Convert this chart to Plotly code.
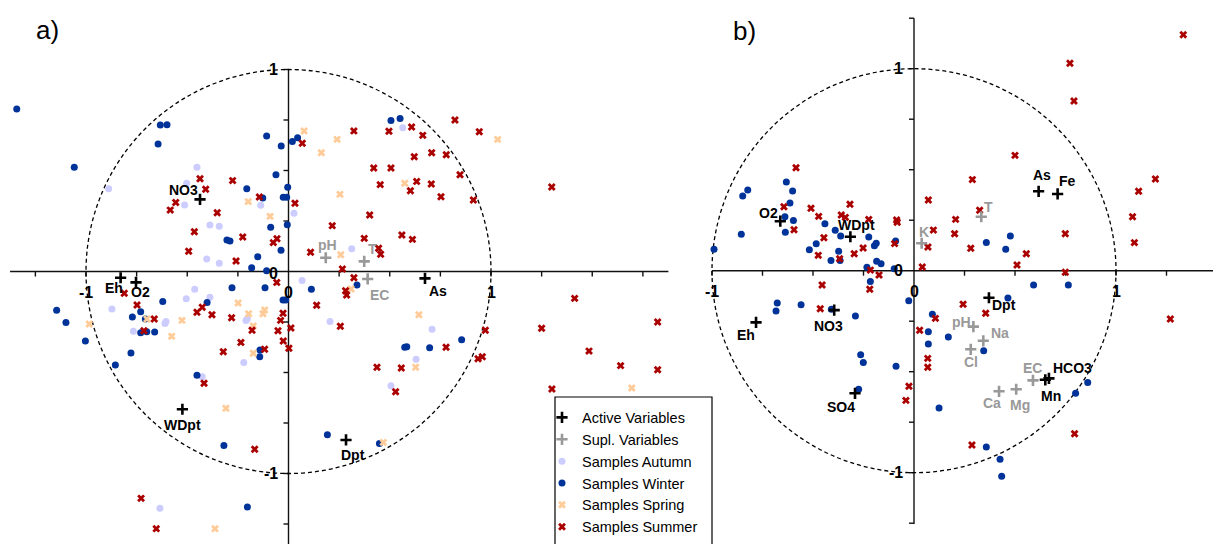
import plotly.graph_objects as go

# ---------------- DATA ----------------
# Panel a) samples
a_autumn_x = [-0.452, -0.888, -0.503, -0.513, -0.388, -0.342, -0.404, -0.342, -0.137, 0.027, 0.564, 0.312, 0.067,
              -0.463, -0.505, -0.388, -0.872, -0.766, -0.610, -0.605, -0.210, -0.203, -0.221, -0.426, -0.635,
              0.205, 0.709, 0.630, 0.506]
a_autumn_y = [0.516, 0.410, 0.437, 0.329, 0.230, 0.224, 0.062, 0.041, 0.328, 0.288, 0.712, 0.113, -0.045,
              -0.088, -0.135, -0.128, -0.186, -0.296, -0.258, -0.248, -0.242, -0.234, -0.450, -0.521, -1.172,
              -0.247, -0.286, -0.435, -0.565]

a_winter_x = [-1.342, -1.058, -0.633, -0.600, -0.644, -0.206, -0.127, -0.108, -0.036, -0.062, -0.004, -0.026, -0.009,
              -0.006, -0.088, -0.037, -0.152, -0.304, -0.289, -0.182, -0.108, 0.019, 0.045, -0.279, -0.116,
              0.506, 0.551, 0.113, 0.338,
              -0.621, -0.730, -0.771, -0.707, -1.145, -1.099, -1.003, -0.730, -0.700, -0.661, -0.778, -0.855,
              -0.402, -0.027, -0.014, -0.141, -0.142, -0.452, -0.319, -0.203,
              0.574, 0.584, 0.697, 0.855, 0.192, 0.449]
a_winter_y = [0.804, 0.516, 0.725, 0.727, 0.631, 0.410, 0.364, 0.671, 0.621, 0.479, 0.417, 0.367, 0.367,
              0.232, 0.219, 0.105, 0.073, 0.156, 0.151, 0.019, 0.004, 0.643, 0.662, -0.080, -0.080,
              0.748, 0.758, -0.088, -0.067,
              -0.148, -0.199, -0.225, -0.235, -0.192, -0.252, -0.344, -0.303, -0.298, -0.300, -0.403, -0.463,
              -0.153, -0.141, -0.141, -0.389, -0.422, -0.514, -0.862, -1.166,
              -0.375, -0.372, -0.377, -0.338, -0.808, -0.852]

a_spring_x = [-0.199, -0.091, 0.077, 0.240, 0.162, 0.574, 0.254, 1.033, 0.258, 0.309,
              -0.984, -0.699, -0.526, -0.577, -0.249, -0.197, -0.126, -0.118, -0.174, -0.174, -0.309, -0.363,
              0.644, 0.628, 0.468, 1.695]
a_spring_y = [0.346, 0.273, 0.696, 0.654, 0.588, 0.437, 0.382, 0.654, 0.083, -0.087,
              -0.260, -0.235, -0.242, -0.321, -0.156, -0.209, -0.209, -0.191, -0.270, -0.405, -0.677, -1.273,
              -0.214, -0.474, -0.846, -0.577]

a_summer_x = [-0.437, -0.409, -0.276, -0.557, -0.584, -0.352, -0.465, -0.493, -0.226, -0.259, -0.144, 0.032,
              -0.057, -0.075, -0.058, -0.811,
              0.068, 0.323, 0.496, 0.608, 0.663, 0.822, 0.942, 0.421, 0.506, 0.621, 0.707, 0.779, 0.847,
              0.453, 0.633, 0.705, 0.602, 0.753, 0.913, 1.300, 0.401, 0.216, 0.560, 0.612, 0.374, 0.445,
              0.455, 0.109, 0.266, 0.323, 0.282, 0.287, 1.413,
              -0.748, -0.663, -0.714, -0.452, -0.426, -0.378, -0.281, -0.180, -0.235, -0.322, -0.118,
              -0.027, -0.039, -0.052, -0.026, 0.002, 0.012, -0.417, -0.167, -0.728, -0.653,
              0.139, 0.256, 0.778, 0.437, 0.557, 0.529, 0.972, 0.936, 0.957, 1.250, 1.301,
              1.823, 1.484, 1.640, 1.823]
a_summer_y = [0.459, 0.407, 0.450, 0.342, 0.304, 0.291, 0.197, 0.100, 0.171, 0.052, 0.369, 0.338,
              0.162, 0.143, -0.054, -0.108,
              0.635, 0.696, 0.694, 0.715, 0.674, 0.750, 0.692, 0.512, 0.512, 0.568, 0.588, 0.578, 0.479,
              0.430, 0.446, 0.433, 0.400, 0.370, 0.354, 0.418, 0.280, 0.227, 0.181, 0.159, 0.164, 0.115,
              0.085, 0.095, 0.012, -0.031, -0.095, -0.116, -0.133,
              -0.166, -0.235, -0.293, -0.202, -0.177, -0.214, -0.229, -0.291, -0.351, -0.397, -0.385,
              -0.207, -0.242, -0.293, -0.344, -0.380, -0.280, -0.553, -0.880, -1.123, -1.273,
              -0.167, -0.271, -0.375, -0.474, -0.478, -0.595, -0.291, -0.432, -0.422, -0.281, -0.582,
              -0.250, -0.394, -0.466, -0.486]

# Panel a) variables
a_active_names = ["NO3", "Eh", "O2", "WDpt", "Dpt", "As"]
a_active_x = [-0.437, -0.829, -0.753, -0.524, 0.284, 0.674]
a_active_y = [0.357, -0.031, -0.054, -0.682, -0.834, -0.034]
a_supl_names = ["pH", "T", "EC"]
a_supl_x = [0.184, 0.374, 0.391]
a_supl_y = [0.068, 0.050, -0.037]

# Panel b) samples
b_winter_x = [-0.990, -0.855, -0.848, -0.823, -0.632, -0.601, -0.614, -0.639, -0.597, -0.637, -0.441, -0.390,
              -0.363, -0.518, -0.484, -0.411, -0.373, -0.366, -0.224, -0.196, -0.187, -0.091, -0.233, -0.185,
              -0.163, -0.098, 0.358, 0.454, 0.477,
              -0.677, -0.683, -0.559, -0.409, -0.290, -0.216, -0.026, -0.264, -0.251, -0.089, -0.274,
              0.091, 0.071, 0.071, 0.170, 0.124,
              0.592, 0.764, 0.465, 0.345, 0.860, 0.800, 0.358, 0.426, 0.434]
b_winter_y = [0.106, 0.180, 0.370, 0.400, 0.439, 0.395, 0.335, 0.267, 0.249, 0.190, 0.233, 0.200,
              0.172, 0.104, 0.134, 0.051, 0.096, 0.050, 0.167, 0.124, 0.136, 0.147, 0.017, 0.047,
              0.035, 0.010, 0.139, 0.106, 0.172,
              -0.160, -0.200, -0.168, -0.191, -0.224, -0.054, -0.149, -0.416, -0.455, -0.473, -0.587,
              -0.216, -0.302, -0.363, -0.328, -0.680,
              -0.071, -0.071, -0.135, -0.396, -0.554, -0.607, -0.873, -0.934, -1.018]

b_summer_x = [-0.584, -0.644, -0.594, -0.510, -0.472, -0.446, -0.474, -0.360, -0.340, -0.317, -0.368, -0.296,
              -0.252, -0.224, -0.216, -0.173, -0.086, -0.083, -0.096, 0.071, 0.096, 0.069, 0.041, 0.206, 0.201,
              1.333, 0.772, 0.792, 0.500, 0.289, 1.195, 1.112, 1.082, 1.091, 0.325, 0.281, 0.749, 0.556,
              0.510, 0.749,
              -0.455, -0.464, -0.219, 0.106, 0.028, 0.068, 0.068, -0.025, -0.040,
              0.243, 0.355, 1.503, 1.269, 0.795, 0.287]
b_summer_y = [0.510, 0.317, 0.203, 0.309, 0.269, 0.163, 0.076, 0.276, 0.264, 0.329, 0.059, 0.084,
              0.112, 0.254, 0.003, -0.021, 0.251, 0.240, 0.134, 0.350, 0.201, 0.117, 0.018, 0.254, 0.183,
              1.168, 1.027, 0.840, 0.571, 0.451, 0.454, 0.393, 0.267, 0.139, 0.299, 0.111, 0.183, 0.084,
              0.028, -0.008,
              -0.071, -0.188, -0.092, -0.236, -0.295, -0.434, -0.478, -0.572, -0.642,
              -0.166, -0.211, -0.112, -0.239, -0.807, -0.863]

# Panel b) variables
b_active_names = ["O2", "WDpt", "As", "Fe", "Eh", "NO3", "SO4", "Dpt", "HCO3", "Mn"]
b_active_x = [-0.662, -0.315, 0.617, 0.711, -0.782, -0.395, -0.292, 0.371, 0.668, 0.650]
b_active_y = [0.245, 0.168, 0.393, 0.380, -0.256, -0.195, -0.607, -0.134, -0.533, -0.540]
b_supl_names = ["K", "T", "pH", "Na", "Cl", "EC", "Ca", "Mg"]
b_supl_x = [0.038, 0.333, 0.294, 0.343, 0.281, 0.589, 0.421, 0.506]
b_supl_y = [0.136, 0.267, -0.277, -0.347, -0.389, -0.543, -0.597, -0.587]

# Axes ticks
a_xticks = [-1.25, -1.0, -0.75, -0.5, -0.25, 0.25, 0.5, 0.75, 1.0, 1.25, 1.5, 1.75]
a_yticks = [1.0, 0.75, 0.5, 0.25, -0.25, -0.5, -0.75, -1.0, -1.25]
b_xticks = [-1.0, -0.75, -0.5, -0.25, 0.25, 0.5, 0.75, 1.0, 1.25, 1.5]
b_yticks = [1.25, 1.0, 0.75, 0.5, 0.25, -0.25, -0.5, -0.75, -1.0, -1.25]
tick_labels = {-1.0: "-1", 0.0: "0", 1.0: "1"}

# ---------------- STYLE ----------------
C_AUT = "#ccccff"
C_WIN = "#003399"
C_SPR = "#ffcc99"
C_SUM = "#aa0000"
C_SUP = "#999999"
FONT = "Liberation Sans"
OFF = 8  # page body offset in the browser (px)

# label offsets (pixels) for variable labels: (xshift, yshift)
a_active_off = {"NO3": (-17, 9), "Eh": (-7, -10), "O2": (4, -10), "WDpt": (0, -16), "Dpt": (7, -15), "As": (13, -13)}
a_supl_off = {"pH": (2, 13), "T": (8, 12), "EC": (12, -16)}
b_active_off = {"O2": (-12, 8), "WDpt": (6, 12), "As": (3, 16), "Fe": (10, 13), "Eh": (-10, -13),
                "NO3": (-6, -16), "SO4": (-14, -14), "Dpt": (15, -7), "HCO3": (24, 10), "Mn": (6, -16)}
b_supl_off = {"K": (2, 11), "T": (7, 10), "pH": (-12, 5), "Na": (17, 8), "Cl": (0, -13), "EC": (0, 12),
              "Ca": (-7, -12), "Mg": (4, -16)}

fig = go.Figure()

def add_samples(xs, ys, name, color, symbol, size, xa, ya, show, rank):
    fig.add_trace(go.Scatter(x=xs, y=ys, mode="markers", name=name, xaxis=xa, yaxis=ya,
                             marker=dict(color=color, symbol=symbol, size=size, line=dict(width=0)),
                             showlegend=show, legendrank=rank, cliponaxis=False))

def add_vars(xs, ys, name, color, xa, ya, show, rank):
    fig.add_trace(go.Scatter(x=xs, y=ys, mode="markers", name=name, xaxis=xa, yaxis=ya,
                             marker=dict(symbol="cross-thin", size=8, line=dict(color=color, width=2.6)),
                             showlegend=show, legendrank=rank, cliponaxis=False))

# panel a
add_samples(a_autumn_x, a_autumn_y, "Samples Autumn", C_AUT, "circle", 7, "x", "y", True, 3)
add_samples(a_winter_x, a_winter_y, "Samples Winter", C_WIN, "circle", 7, "x", "y", True, 4)
add_samples(a_spring_x, a_spring_y, "Samples Spring", C_SPR, "x", 7, "x", "y", True, 5)
add_samples(a_summer_x, a_summer_y, "Samples Summer", C_SUM, "x", 7, "x", "y", True, 6)
add_vars(a_supl_x, a_supl_y, "Supl. Variables", C_SUP, "x", "y", True, 2)
add_vars(a_active_x, a_active_y, "Active Variables", "black", "x", "y", True, 1)
# panel b
add_samples(b_winter_x, b_winter_y, "Samples Winter", C_WIN, "circle", 7, "x2", "y2", False, 4)
add_samples(b_summer_x, b_summer_y, "Samples Summer", C_SUM, "x", 7, "x2", "y2", False, 6)
add_vars(b_supl_x, b_supl_y, "Supl. Variables", C_SUP, "x2", "y2", False, 2)
add_vars(b_active_x, b_active_y, "Active Variables", "black", "x2", "y2", False, 1)

shapes = []
annotations = []

def axes(xr, yr, hx0, hx1, vy0, vy1, xticks, yticks, y0lab_shift):
    line = dict(color="#111111", width=1.4)
    shapes.append(dict(type="line", xref=xr, yref=yr, x0=hx0, x1=hx1, y0=0, y1=0, line=line, layer="below"))
    shapes.append(dict(type="line", xref=xr, yref=yr, x0=0, x1=0, y0=vy0, y1=vy1, line=line, layer="below"))
    for t in xticks:
        shapes.append(dict(type="line", xref=xr, yref=yr, x0=t, x1=t, ysizemode="pixel", yanchor=0,
                           y0=0, y1=-5, line=line, layer="below"))
    for t in yticks:
        shapes.append(dict(type="line", xref=xr, yref=yr, y0=t, y1=t, xsizemode="pixel", xanchor=0,
                           x0=0, x1=-5, line=line, layer="below"))
    shapes.append(dict(type="circle", xref=xr, yref=yr, x0=-1, x1=1, y0=-1, y1=1,
                       line=dict(color="black", width=1.3, dash="4px,3px"), layer="below"))
    for v, txt in tick_labels.items():
        annotations.append(dict(xref=xr, yref=yr, x=v, y=0, text="<b>%s</b>" % txt,
                                showarrow=False, xanchor="center", yanchor="middle", yshift=-21,
                                font=dict(family=FONT, size=16, color="black")))
        annotations.append(dict(xref=xr, yref=yr, x=0, y=v, text="<b>%s</b>" % txt, showarrow=False,
                                xanchor="right", yanchor="middle", xshift=-9,
                                yshift=y0lab_shift if v == 0 else 0,
                                font=dict(family=FONT, size=16, color="black")))

axes("x", "y", -1.375, 1.876, 1.0, -1.45, a_xticks, a_yticks, -2)
axes("x2", "y2", -1.0, 1.56, -1.254, 1.25, b_xticks, b_yticks, 0)

def labels(names, xs, ys, offs, color, xr, yr):
    for n, x, y in zip(names, xs, ys):
        dx, dy = offs[n]
        annotations.append(dict(xref=xr, yref=yr, x=x, y=y, text="<b>%s</b>" % n, showarrow=False,
                                xanchor="center", yanchor="middle", xshift=dx, yshift=dy,
                                font=dict(family=FONT, size=14, color=color)))

labels(a_active_names, a_active_x, a_active_y, a_active_off, "black", "x", "y")
labels(a_supl_names, a_supl_x, a_supl_y, a_supl_off, C_SUP, "x", "y")
labels(b_active_names, b_active_x, b_active_y, b_active_off, "black", "x2", "y2")
labels(b_supl_names, b_supl_x, b_supl_y, b_supl_off, C_SUP, "x2", "y2")

W, H = 1221, 544

def px(xs):
    return (xs - OFF) / W

def py(ys):
    return 1 - (ys - OFF) / H

annotations.append(dict(xref="paper", yref="paper", x=px(47), y=py(30), text="a)", showarrow=False,
                        xanchor="center", yanchor="middle", font=dict(family=FONT, size=26, color="black")))
annotations.append(dict(xref="paper", yref="paper", x=px(744), y=py(31), text="b)", showarrow=False,
                        xanchor="center", yanchor="middle", font=dict(family=FONT, size=26, color="black")))

# legend box
shapes.append(dict(type="rect", xref="paper", yref="paper", x0=px(555), x1=px(712), y0=py(397), y1=-0.1,
                   line=dict(color="black", width=1.2), fillcolor="white", layer="above"))

# axis origins in screen pixels and scale
AX0, AY0, AS = 288.5 - OFF, 271.5 - OFF, 202.5
BX0, BY0, BS = 914 - OFF, 270.7 - OFF, 202
split = 690

fig.update_layout(
    width=W, height=H, margin=dict(l=0, r=0, t=0, b=0),
    paper_bgcolor="white", plot_bgcolor="white",
    xaxis=dict(domain=[0, split / W], range=[(0 - AX0) / AS, (split - AX0) / AS], visible=False),
    yaxis=dict(domain=[0, 1], range=[(AY0 - H) / 202, AY0 / 202], visible=False, anchor="x"),
    xaxis2=dict(domain=[split / W, 1], range=[(split - BX0) / BS, (W - BX0) / BS], visible=False, anchor="y2"),
    yaxis2=dict(domain=[0, 1], range=[(BY0 - H) / BS, BY0 / BS], visible=False, anchor="x2"),
    shapes=shapes, annotations=annotations,
    showlegend=True,
    legend=dict(x=px(542), y=py(401.5), xanchor="left", yanchor="top", bgcolor="rgba(0,0,0,0)",
                borderwidth=0, font=dict(family=FONT, size=14.5, color="black"), tracegroupgap=0),
)

fig.write_html("out.html")
